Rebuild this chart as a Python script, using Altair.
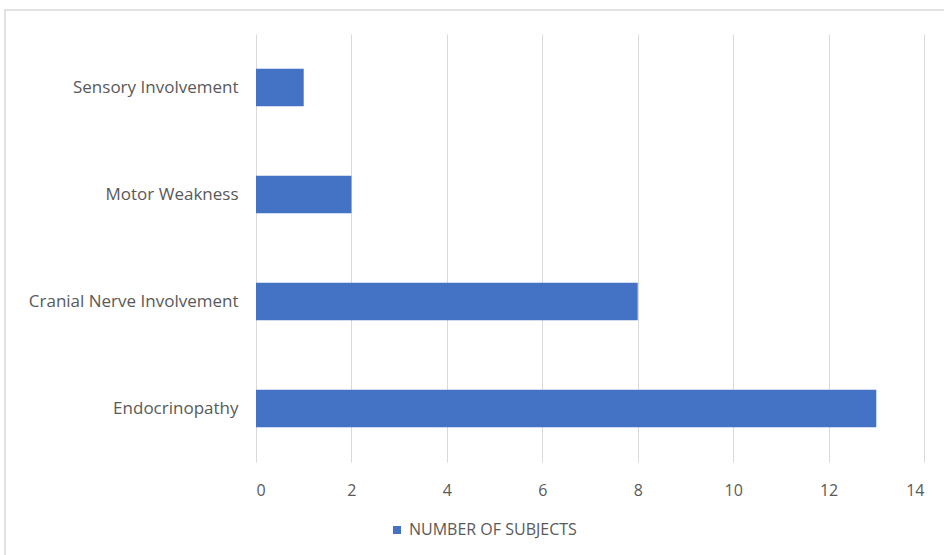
import altair as alt
import pandas as pd

categories = ["Sensory Involvement", "Motor Weakness", "Cranial Nerve Involvement", "Endocrinopathy"]
values = [1, 2, 8, 13]
series_name = "NUMBER OF SUBJECTS"
x_ticks = [0, 2, 4, 6, 8, 10, 12, 14]

df = pd.DataFrame({"category": categories, "value": values, "series": [series_name] * len(categories)})

FONT = "Open Sans"
GRAY = "#595959"

border = alt.Chart(pd.DataFrame({"a": [0]})).mark_rect(
    fill=None, stroke="#d9d9d9", strokeWidth=1.5, clip=False
).encode(
    x=alt.value(-251), x2=alt.value(700), y=alt.value(-24), y2=alt.value(530)
)

bars = alt.Chart(df).mark_bar(color="#4472C4").encode(
    y=alt.Y("category:N", sort=categories, title=None,
            scale=alt.Scale(paddingInner=0.65, paddingOuter=0.325),
            axis=alt.Axis(domain=False, ticks=False, labelPadding=18, labelFontSize=17,
                          labelLimit=400, labelColor=GRAY, labelFont=FONT, grid=False)),
    x=alt.X("value:Q", title=None,
            scale=alt.Scale(domain=[0, 14], nice=False),
            axis=alt.Axis(values=x_ticks, domain=False, ticks=False, labelPadding=20,
                          labelFontSize=16, labelColor=GRAY, labelFont=FONT,
                          grid=True, gridColor="#d9d9d9", gridWidth=1)),
    color=alt.Color("series:N", scale=alt.Scale(range=["#4472C4"]),
                    legend=alt.Legend(title=None, orient="none", legendX=133, legendY=488,
                                      symbolType="square", symbolSize=64, labelFontSize=16,
                                      labelLimit=400, labelColor=GRAY, labelFont=FONT)),
)

chart = alt.layer(border, bars).properties(
    width=668, height=428,
    autosize=alt.AutoSizeParams(type="none"),
    padding={"left": 256, "top": 34, "right": 20, "bottom": 93},
    background="white",
).configure_view(stroke=None)

chart.save("out.html", embed_options={"renderer": "svg", "actions": False})
